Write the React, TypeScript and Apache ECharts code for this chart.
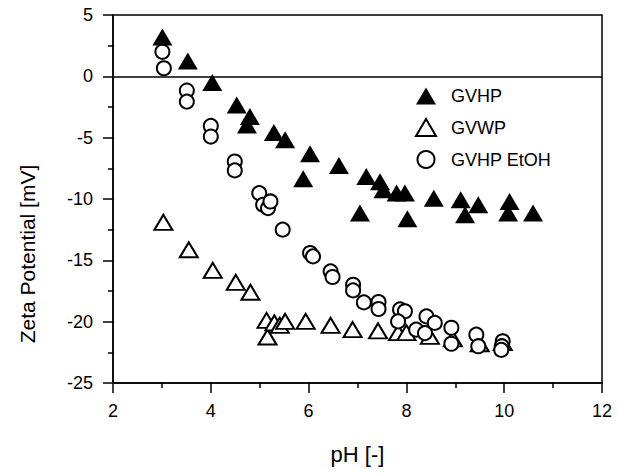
import React, { useEffect, useRef } from "react";
import * as echarts from "echarts";

const xTicks = [2, 4, 6, 8, 10, 12];
const yTicks = [-25, -20, -15, -10, -5, 0, 5];

const gvhpPH = [3.01, 3.53, 4.03, 4.53, 4.8, 4.74, 5.29, 5.52, 6.03, 5.89, 6.62, 7.18, 7.05, 7.46, 7.53, 7.8, 7.97, 8.02, 8.56, 9.11, 9.2, 9.47, 10.11, 10.08, 10.59];
const gvhpZeta = [3.2, 1.25, -0.5, -2.33, -3.28, -3.96, -4.58, -5.18, -6.32, -8.35, -7.27, -8.17, -11.15, -8.6, -9.25, -9.52, -9.52, -11.6, -9.93, -10.07, -11.29, -10.47, -10.2, -11.15, -11.15];

const gvwpPH = [3.03, 3.55, 4.04, 4.51, 4.81, 5.14, 5.16, 5.3, 5.41, 5.52, 5.94, 6.45, 6.9, 7.42, 7.83, 8.0, 8.48, 8.95, 9.5, 9.97];
const gvwpZeta = [-11.9, -14.14, -15.82, -16.8, -17.6, -19.9, -21.25, -20.1, -20.3, -19.97, -19.97, -20.3, -20.65, -20.75, -20.9, -20.9, -21.2, -21.4, -21.8, -21.7];

const etohPH = [3.01, 3.04, 3.51, 3.51, 4.0, 4.0, 4.49, 4.49, 4.99, 5.07, 5.17, 5.22, 5.47, 6.03, 6.09, 6.45, 6.49, 6.91, 6.91, 7.13, 7.43, 7.43, 7.87, 7.97, 7.83, 8.2, 8.41, 8.58, 8.38, 8.92, 8.92, 9.43, 9.47, 9.97, 9.95, 9.94];
const etohZeta = [2.0, 0.66, -1.16, -2.06, -4.04, -4.91, -6.94, -7.67, -9.52, -10.47, -10.74, -10.2, -12.5, -14.4, -14.68, -15.9, -16.36, -16.99, -17.45, -18.43, -18.4, -18.97, -19.0, -19.15, -19.98, -20.65, -19.57, -20.1, -20.93, -20.5, -21.8, -21.06, -22.0, -21.6, -22.0, -22.3];

const seriesNames = ["GVHP", "GVWP", "GVHP EtOH"];

const zip = (a: number[], b: number[]) => a.map((v, i) => [v, b[i]]);

const FONT = "Liberation Sans, Arial, sans-serif";

export default function App() {
  const ref = useRef<HTMLDivElement>(null);
  useEffect(() => {
    if (!ref.current) return;
    const chart = echarts.init(ref.current, undefined, { renderer: "svg" });
    const axisCommon = {
      axisLine: { show: true, onZero: false, lineStyle: { color: "#000", width: 1.5 } },
      axisTick: { show: true, inside: false, length: 10, lineStyle: { color: "#000", width: 1.5 } },
      minorTick: { show: true, splitNumber: 2, length: 5, lineStyle: { color: "#000", width: 1.5 } },
      splitLine: { show: false },
    };
    chart.setOption({
      animation: false,
      backgroundColor: "#fff",
      textStyle: { fontFamily: FONT },
      grid: {
        left: 113,
        right: 16,
        top: 15,
        bottom: 92,
        show: true,
        borderColor: "#000",
        borderWidth: 1.5,
        backgroundColor: "transparent",
      },
      legend: {
        orient: "vertical",
        left: 410,
        top: 82,
        itemWidth: 20,
        itemHeight: 17,
        itemGap: 13,
        data: seriesNames,
        textStyle: { color: "#000", fontSize: 18, fontFamily: FONT, padding: [0, 0, 0, 10] },
      },
      xAxis: {
        type: "value",
        min: xTicks[0],
        max: xTicks[xTicks.length - 1],
        interval: 2,
        name: "pH [-]",
        nameLocation: "middle",
        nameGap: 60,
        nameTextStyle: { color: "#000", fontSize: 22, fontFamily: FONT },
        axisLabel: { color: "#000", fontSize: 18, fontFamily: FONT, margin: 19 },
        ...axisCommon,
      },
      yAxis: {
        type: "value",
        min: yTicks[0],
        max: yTicks[yTicks.length - 1],
        interval: 5,
        name: "Zeta Potential [mV]",
        nameLocation: "middle",
        nameGap: 75,
        nameTextStyle: { color: "#000", fontSize: 21, fontFamily: FONT, padding: [0, 110, 0, 0] },
        axisLabel: { color: "#000", fontSize: 18, fontFamily: FONT, margin: 20 },
        ...axisCommon,
      },
      series: [
        {
          name: seriesNames[0],
          type: "scatter",
          symbol: "triangle",
          symbolSize: [20, 17],
          itemStyle: { color: "#000", opacity: 1 },
          data: zip(gvhpPH, gvhpZeta),
          markLine: {
            silent: true,
            symbol: "none",
            label: { show: false },
            lineStyle: { color: "#000", width: 1.5, type: "solid" },
            data: [{ yAxis: 0 }],
          },
        },
        {
          name: seriesNames[1],
          type: "scatter",
          symbol: "triangle",
          symbolSize: [18, 15],
          itemStyle: { color: "#fff", borderColor: "#000", borderWidth: 2, opacity: 1 },
          data: zip(gvwpPH, gvwpZeta),
        },
        {
          name: seriesNames[2],
          type: "scatter",
          symbol: "circle",
          symbolSize: 14,
          itemStyle: { color: "#fff", borderColor: "#000", borderWidth: 2, opacity: 1 },
          data: zip(etohPH, etohZeta),
        },
      ],
    });
    return () => chart.dispose();
  }, []);
  return <div ref={ref} style={{ width: 618, height: 475, position: "absolute", left: 0, top: 0 }} />;
}
